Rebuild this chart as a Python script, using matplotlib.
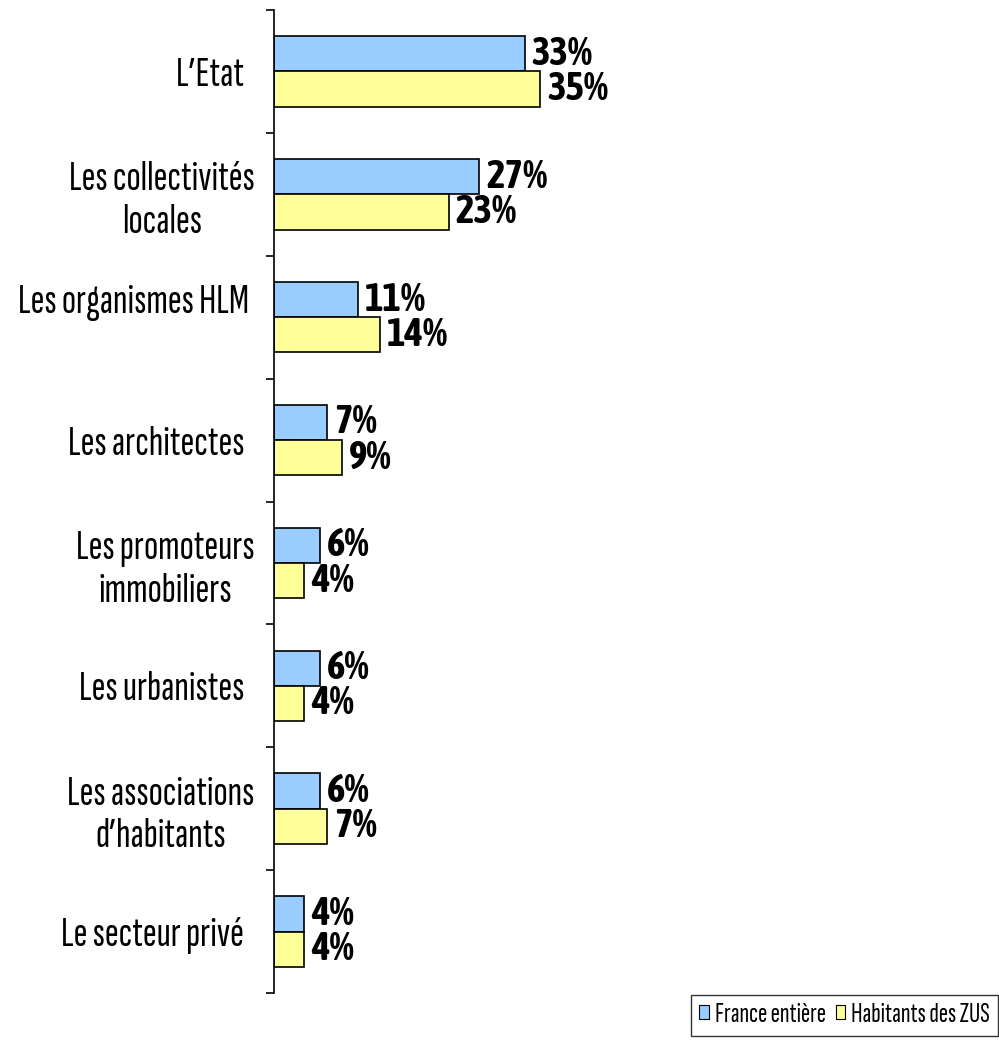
import matplotlib
matplotlib.use("Agg")
import math
import matplotlib.pyplot as plt
import numpy as np
from matplotlib.patches import Patch
from matplotlib import font_manager
from matplotlib.font_manager import FontProperties
from matplotlib.textpath import TextPath

categories = ["L’Etat  ", "Les collectivités\nlocales", "Les organismes HLM \n ",
              "Les architectes  ", "Les promoteurs\nimmobiliers", "Les urbanistes  ",
              "Les associations\nd’habitants", "Le secteur privé  "]
france = [33, 27, 11, 7, 6, 6, 6, 4]
zus = [35, 23, 14, 9, 4, 4, 7, 4]
series_names = ["France entière", "Habitants des ZUS"]

# ---- font selection: narrow humanist sans, matched to the reference's proportions
CANDS = ["PT Sans Narrow", "Ubuntu Condensed", "Fira Sans Extra Condensed",
         "Fira Sans Condensed", "Roboto Condensed", "Archivo Narrow", "Barlow Condensed",
         "Sofia Sans Extra Condensed", "Sofia Sans Condensed", "Encode Sans Condensed",
         "Encode Sans Compressed", "Saira Extra Condensed", "Asap Condensed",
         "Open Sans Condensed", "IBM Plex Sans Condensed", "Liberation Sans Narrow"]


def _w(x):
    if isinstance(x, str):
        return font_manager.weight_dict.get(x, 400)
    return x


fonts = {}
for f in font_manager.fontManager.ttflist:
    if f.style == "normal":
        fonts.setdefault(f.name, set()).add(_w(f.weight))


def pick(sample, target_w, target_cap, bold):
    best = None
    for c in CANDS:
        ws = fonts.get(c)
        if not ws:
            continue
        if bold and max(ws) < 600:
            continue
        if not bold and not any(300 <= w <= 500 for w in ws):
            continue
        fp = FontProperties(family=c, weight="bold" if bold else "normal")
        try:
            wid = TextPath((0, 0), sample, size=100, prop=fp).get_extents().width
            cap = TextPath((0, 0), "H", size=100, prop=fp).get_extents().height
        except Exception:
            continue
        score = abs(math.log((wid / cap) / (target_w / target_cap)))
        if best is None or score < best[0]:
            best = (score, c, target_w * 72 / wid)
    if best is None:
        return "DejaVu Sans", 16
    return best[1], best[2]


lab_fam, lab_size = pick("Les collectivités", 182, 28, False)
val_fam, val_size = pick("33%", 60, 29, True)
leg_fam, leg_size = pick("France entière", 109, 19, False)
plt.rcParams["font.family"] = [lab_fam, "DejaVu Sans"]

W, H = 999, 1041
fig = plt.figure(figsize=(W / 100, H / 100), dpi=100)
left, top, bottom = 274, 10, 993
px_per_unit = 7.6
xmax = 95
ax = fig.add_axes([left / W, 1 - bottom / H, xmax * px_per_unit / W, (bottom - top) / H])

y = np.arange(len(categories))
h = 0.287
blue = "#99CCFF"
yellow = "#FFFF99"
b1 = ax.barh(y - h / 2, france, height=h, color=blue, edgecolor="black", linewidth=1.2)
b2 = ax.barh(y + h / 2, zus, height=h, color=yellow, edgecolor="black", linewidth=1.2)

for bars, vals in ((b1, france), (b2, zus)):
    for rect, v in zip(bars, vals):
        ax.annotate(f"{v}%", (rect.get_width(), rect.get_y() + rect.get_height() / 2),
                    xytext=(5, 0), textcoords="offset points", va="center", ha="left",
                    fontsize=val_size, fontweight="bold", color="black",
                    family=[val_fam, "DejaVu Sans"])

ax.set_xlim(0, xmax)
ax.set_ylim(len(categories) - 0.5, -0.5)
ax.set_yticks(y)
ax.set_yticklabels(categories, fontsize=lab_size, multialignment="center")
ax.tick_params(axis="y", which="major", length=0, pad=14)
ax.set_yticks(np.arange(len(categories) + 1) - 0.5, minor=True)
ax.tick_params(axis="y", which="minor", length=6, width=1.2, direction="out")
ax.set_xticks([])
for s in ("top", "right", "bottom"):
    ax.spines[s].set_visible(False)
ax.spines["left"].set_linewidth(1.2)

handles = [Patch(facecolor=blue, edgecolor="black", linewidth=0.8),
           Patch(facecolor=yellow, edgecolor="black", linewidth=0.8)]
leg = fig.legend(handles, series_names, loc="upper left",
                 bbox_to_anchor=(691 / W, 1 - 995 / H), ncol=2,
                 prop=FontProperties(family=[leg_fam, "DejaVu Sans"], size=leg_size),
                 frameon=True, fancybox=False, edgecolor="black", handlelength=0.33,
                 handleheight=0.4, handletextpad=0.22, columnspacing=0.35,
                 borderpad=0.3, borderaxespad=0)
leg.get_frame().set_linewidth(1.0)

fig.savefig("out.png", dpi=100)
